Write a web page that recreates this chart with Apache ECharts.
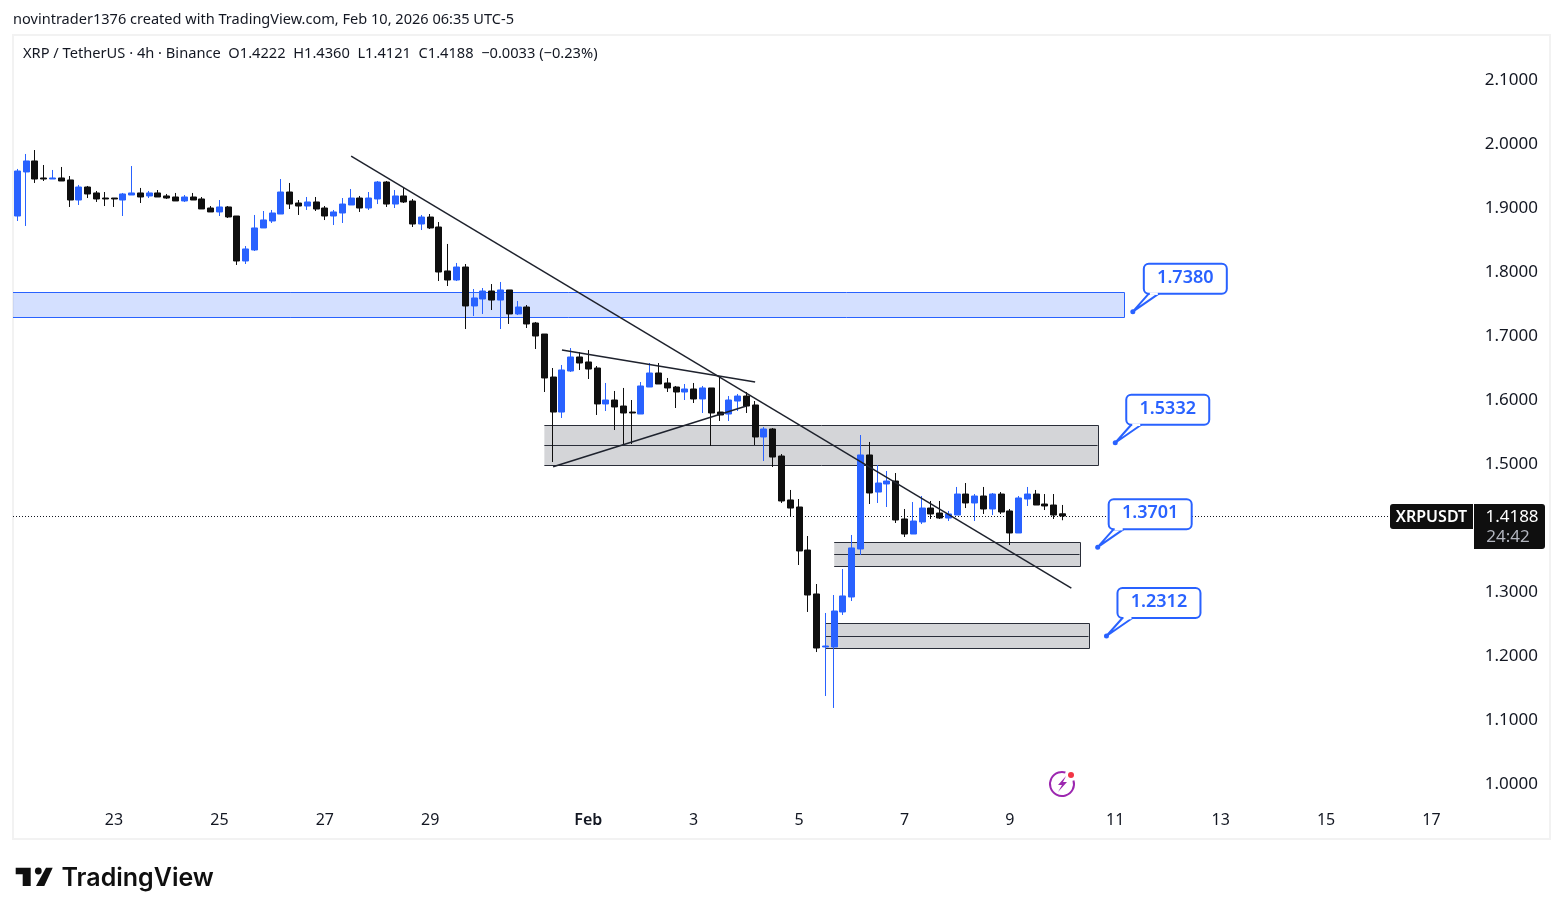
<!DOCTYPE html>
<html>
<head>
<meta charset="utf-8">
<title>XRP / TetherUS 4h</title>
<script src="https://cdn.jsdelivr.net/npm/echarts@6/dist/echarts.min.js"></script>
<style>
  html, body { margin: 0; padding: 0; background: #ffffff; }
  #chart { width: 1563px; height: 915px; }
</style>
</head>
<body>
<div id="chart"></div>
<script>
// 4h XRP/USDT candles, oldest first
const opens = [
  1.8875,1.9563,1.9735,1.9469,1.9453,1.9469,1.9438,1.9125,1.9328,1.9235,
  1.9156,1.9156,1.9125,1.9203,1.9235,1.9188,1.9235,1.9188,1.9172,1.9110,
  1.9172,1.9141,1.9000,1.8938,1.9016,1.8875,1.8172,1.8344,1.8688,1.8797,
  1.8906,1.9250,1.9078,1.9031,1.9094,1.9000,1.8875,1.8922,1.9047,1.9156,
  1.9000,1.9141,1.9406,1.9062,1.9188,1.9109,1.8750,1.8859,1.8703,1.8016,
  1.7875,1.8078,1.7469,1.7578,1.7703,1.7562,1.7719,1.7344,1.7453,1.7203,
  1.7031,1.6359,1.5812,1.6453,1.6672,1.6594,1.6500,1.5938,1.6000,1.5906,
  1.5812,1.5781,1.6203,1.6422,1.6266,1.6203,1.6125,1.6172,1.6016,1.6188,
  1.5812,1.5781,1.5984,1.6062,1.5922,1.5422,1.5547,1.5125,1.4438,1.4328,
  1.3656,1.2969,1.2141,1.2141,1.2688,1.2922,1.3672,1.5141,1.4562,1.4688,
  1.4734,1.4141,1.3906,1.4094,1.4312,1.4234,1.4156,1.4203,1.4531,1.4391,
  1.4500,1.4297,1.4531,1.4266,1.3922,1.4453,1.4531,1.4375,1.4359,1.4222
];
const closes = [
  1.9578,1.9735,1.9453,1.9453,1.9469,1.9422,1.9125,1.9328,1.9219,1.9141,
  1.9141,1.9141,1.9219,1.9235,1.9172,1.9235,1.9172,1.9156,1.9110,1.9172,
  1.9125,1.8985,1.8938,1.9016,1.8860,1.8172,1.8360,1.8688,1.8813,1.8922,
  1.9250,1.9062,1.9031,1.9094,1.8984,1.8875,1.8938,1.9062,1.9156,1.9000,
  1.9156,1.9406,1.9062,1.9188,1.9094,1.8750,1.8859,1.8688,1.8000,1.7875,
  1.8078,1.7469,1.7594,1.7703,1.7562,1.7719,1.7344,1.7453,1.7188,1.7000,
  1.6344,1.5812,1.6469,1.6672,1.6578,1.6484,1.5938,1.6000,1.5891,1.5797,
  1.5797,1.6219,1.6422,1.6250,1.6188,1.6125,1.6172,1.6016,1.6188,1.5797,
  1.5766,1.6000,1.6062,1.5906,1.5422,1.5547,1.5109,1.4422,1.4312,1.3641,
  1.2953,1.2125,1.2156,1.2703,1.2938,1.3688,1.5141,1.4547,1.4703,1.4734,
  1.4125,1.3906,1.4109,1.4312,1.4219,1.4156,1.4219,1.4531,1.4391,1.4500,
  1.4297,1.4531,1.4250,1.3922,1.4469,1.4531,1.4359,1.4344,1.4203,1.4188
];
const highs = [
  1.9610,1.9844,1.9906,1.9672,1.9594,1.9641,1.9500,1.9360,1.9344,1.9266,
  1.9250,1.9156,1.9235,1.9656,1.9313,1.9266,1.9281,1.9219,1.9235,1.9203,
  1.9235,1.9172,1.9031,1.9125,1.9031,1.8875,1.8406,1.8891,1.8953,1.8969,
  1.9453,1.9391,1.9125,1.9172,1.9172,1.9031,1.8969,1.9156,1.9297,1.9188,
  1.9250,1.9422,1.9422,1.9281,1.9312,1.9141,1.8891,1.8906,1.8781,1.8438,
  1.8141,1.8125,1.7734,1.7750,1.7812,1.7844,1.7719,1.7547,1.7484,1.7219,
  1.7031,1.6500,1.6547,1.6812,1.6750,1.6781,1.6531,1.6266,1.6141,1.6188,
  1.6000,1.6281,1.6578,1.6578,1.6344,1.6219,1.6250,1.6266,1.6219,1.6188,
  1.6375,1.6062,1.6094,1.6125,1.5984,1.5578,1.5562,1.5156,1.4594,1.4453,
  1.3875,1.3125,1.2672,1.2953,1.3359,1.3891,1.5453,1.5344,1.4984,1.4891,
  1.4859,1.4297,1.4406,1.4500,1.4422,1.4422,1.4266,1.4641,1.4703,1.4531,
  1.4641,1.4547,1.4562,1.4297,1.4500,1.4641,1.4594,1.4531,1.4531,1.4360
];
const lows = [
  1.8797,1.8719,1.9391,1.9422,1.9453,1.9422,1.9016,1.9047,1.9156,1.9094,
  1.9031,1.9016,1.8875,1.9203,1.9078,1.9156,1.9172,1.9141,1.9110,1.9094,
  1.9125,1.8985,1.8938,1.8875,1.8844,1.8110,1.8125,1.8328,1.8688,1.8766,
  1.8906,1.8984,1.8891,1.8969,1.8953,1.8812,1.8734,1.8766,1.9047,1.8938,
  1.8969,1.9062,1.9016,1.9000,1.9078,1.8703,1.8656,1.8672,1.7859,1.7781,
  1.7859,1.7109,1.7312,1.7344,1.7406,1.7109,1.7188,1.7328,1.7125,1.6797,
  1.6125,1.5031,1.5719,1.6438,1.6469,1.6328,1.5766,1.5828,1.5531,1.5297,
  1.5312,1.5781,1.6203,1.6250,1.6125,1.5875,1.6000,1.5953,1.5797,1.5281,
  1.5672,1.5672,1.5828,1.5797,1.5297,1.5047,1.4953,1.4391,1.4172,1.3422,
  1.2688,1.2062,1.1375,1.1188,1.2641,1.2859,1.3578,1.4375,1.4391,1.4328,
  1.4078,1.3859,1.3906,1.4062,1.4141,1.4141,1.4109,1.4203,1.4312,1.4109,
  1.4219,1.4203,1.4219,1.3734,1.3922,1.4344,1.4359,1.4281,1.4141,1.4121
];

// Session slots on the time axis, including the empty stretch right of the last candle
const slotCount = 175;
const dayLabels = ['23','25','27','29','Feb','3','5','7','9','11','13','15','17'];
const daySlots  = [11,23,35,47,65,77,89,101,113,125,137,149,161];
const priceTicks = [1.0,1.1,1.2,1.3,1.4,1.5,1.6,1.7,1.8,1.9,2.0,2.1];

// Support / resistance zones: [first slot, last slot, top, middle, bottom]
const blueZone  = [[-0.5, 126, 1.7683, 1.7683, 1.7292]];
const greyZones = [
  [60, 123, 1.5605, 1.5292, 1.4980],
  [93, 121, 1.3777, 1.3589, 1.3402],
  [92, 122, 1.2511, 1.2308, 1.2120]
];

// Hand-drawn trend lines: [slot, price] pairs
const mainTrend  = [[38, 1.9812], [120, 1.3062]];
const wedgeUpper = [[62, 1.6781], [84, 1.6281]];
const wedgeLower = [[61, 1.4958], [83, 1.5906]];

// Price callouts: [slot of the pointer, price]
const callouts = [[127, 1.7380], [125, 1.5332], [123, 1.3701], [124, 1.2312]];

const lastPrice = 1.4188;

const BLUE = '#2962ff';
const INK = '#131722';
const FONT = '"Noto Sans", sans-serif';

const categories = [];
for (let i = 0; i < slotCount; i++) {
  const at = daySlots.indexOf(i);
  categories.push(at >= 0 ? dayLabels[at] : '');
}
const candles = opens.map((o, i) => [o, closes[i], lows[i], highs[i]]);

const crisp = v => Math.round(v) + 0.5;

function renderZone(stroke, fill, midline) {
  return function (params, api) {
    const a = api.coord([api.value(0), api.value(2)]);
    const b = api.coord([api.value(1), api.value(4)]);
    const midY = crisp(api.coord([api.value(0), api.value(3)])[1]);
    const x0 = a[0], x1 = crisp(b[0]), y0 = crisp(a[1]), y1 = crisp(b[1]);
    const children = [
      { type: 'rect', shape: { x: x0, y: y0, width: x1 - x0, height: y1 - y0 },
        style: { fill: fill } },
      { type: 'polyline', shape: { points: [[x0, y0], [x1, y0], [x1, y1], [x0, y1]] },
        style: { stroke: stroke, lineWidth: 1, fill: null } }
    ];
    if (midline) {
      children.push({ type: 'line', shape: { x1: x0, y1: midY, x2: x1 - 1, y2: midY },
        style: { stroke: stroke, lineWidth: 1 } });
    }
    return { type: 'group', children: children };
  };
}

function renderCallout(params, api) {
  const p = api.coord([api.value(0), api.value(1)]);
  const bx = p[0] + 11, by = p[1] - 48, bw = 83, bh = 30;
  return {
    type: 'group',
    children: [
      { type: 'polygon', shape: { points: [[p[0], p[1]], [bx + 5, by + bh], [bx + 15, by + bh]] },
        style: { fill: '#ffffff', stroke: BLUE, lineWidth: 2, lineJoin: 'round' } },
      { type: 'rect', shape: { x: bx, y: by, width: bw, height: bh, r: 5 },
        style: { fill: '#ffffff', stroke: BLUE, lineWidth: 2 } },
      { type: 'line', shape: { x1: bx + 6, y1: by + bh, x2: bx + 14, y2: by + bh },
        style: { stroke: '#ffffff', lineWidth: 2.5 } },
      { type: 'circle', shape: { cx: p[0], cy: p[1], r: 2.5 }, style: { fill: BLUE } },
      { type: 'text', style: { text: api.value(1).toFixed(4), x: bx + bw / 2, y: by + bh / 2 - 1,
        textAlign: 'center', textVerticalAlign: 'middle', fill: BLUE,
        font: '600 18px ' + FONT } }
    ]
  };
}

function renderPriceTag(params, api) {
  const y = Math.round(api.coord([0, api.value(0)])[1]);
  const left = api.coord([-0.5, api.value(0)])[0];
  const lineY = y + 0.5;
  return {
    type: 'group',
    children: [
      { type: 'line', shape: { x1: left, y1: lineY, x2: 1390, y2: lineY },
        style: { stroke: INK, lineWidth: 1, lineDash: [1, 2] } },
      { type: 'rect', shape: { x: 1390, y: y - 12, width: 83, height: 25, r: [3, 0, 0, 3] },
        style: { fill: '#0f0f0f' } },
      { type: 'text', style: { text: 'XRPUSDT', x: 1431.5, y: y + 1, textAlign: 'center',
        textVerticalAlign: 'middle', fill: '#ffffff', font: '600 16px ' + FONT } },
      { type: 'rect', shape: { x: 1474, y: y - 12, width: 71, height: 45, r: [0, 3, 3, 0] },
        style: { fill: '#0f0f0f' } },
      { type: 'text', style: { text: api.value(0).toFixed(4), x: 1512, y: y + 1, textAlign: 'center',
        textVerticalAlign: 'middle', fill: '#ffffff', font: '17px ' + FONT } },
      { type: 'text', style: { text: '24:42', x: 1508, y: y + 21, textAlign: 'center',
        textVerticalAlign: 'middle', fill: '#b2b5be', font: '17px ' + FONT } }
    ]
  };
}

function trendSeries(points) {
  return {
    type: 'line', xAxisIndex: 1, data: points, symbol: 'none', z: 5, silent: true,
    lineStyle: { color: '#1e222d', width: 1.5 }
  };
}

const chart = echarts.init(document.getElementById('chart'), null, { renderer: 'canvas' });

chart.setOption({
  animation: false,
  backgroundColor: '#ffffff',
  tooltip: { show: false },
  grid: { left: 13, top: 35, width: 1537, height: 765, containLabel: false },
  xAxis: [
    {
      type: 'category', data: categories, boundaryGap: true,
      axisLine: { show: false }, axisTick: { show: false }, splitLine: { show: false },
      axisLabel: {
        interval: (i, name) => name !== '',
        margin: 12, color: INK, fontFamily: FONT, fontSize: 16,
        formatter: v => v === 'Feb' ? '{m|Feb}' : v,
        rich: { m: { fontFamily: FONT, fontSize: 16, fontWeight: 600, color: INK } }
      }
    },
    { type: 'value', min: -0.5, max: slotCount - 0.5, show: false, splitLine: { show: false } }
  ],
  yAxis: {
    type: 'value', position: 'right', min: 0.975, max: 2.1703125, scale: true,
    axisLine: { show: false }, axisTick: { show: false }, splitLine: { show: false },
    axisLabel: {
      inside: true, margin: 12, color: INK, fontFamily: FONT, fontSize: 17,
      padding: [4, 0, 0, 0],
      customValues: priceTicks, formatter: v => v.toFixed(4)
    }
  },
  series: [
    { type: 'custom', xAxisIndex: 1, data: blueZone, z: 1, silent: true, clip: true,
      encode: { x: [0, 1], y: [2, 3, 4] },
      renderItem: renderZone(BLUE, 'rgba(41,98,255,0.2)', false) },
    { type: 'custom', xAxisIndex: 1, data: greyZones, z: 1, silent: true,
      encode: { x: [0, 1], y: [2, 3, 4] },
      renderItem: renderZone('#2a2e39', 'rgba(120,123,134,0.32)', true) },
    { type: 'candlestick', xAxisIndex: 0, data: candles, barWidth: 6.5, z: 3, silent: true,
      itemStyle: { color: BLUE, color0: '#0f0f0f', borderColor: BLUE, borderColor0: '#0f0f0f', borderWidth: 1 } },
    trendSeries(mainTrend),
    trendSeries(wedgeUpper),
    trendSeries(wedgeLower),
    { type: 'custom', xAxisIndex: 1, data: callouts, z: 6, silent: true,
      encode: { x: 0, y: 1 }, renderItem: renderCallout },
    { type: 'custom', xAxisIndex: 1, data: [[lastPrice]], z: 2, silent: true,
      encode: { y: 0 }, renderItem: renderPriceTag }
  ],
  graphic: [
    { type: 'rect', z: 0, silent: true, shape: { x: 13, y: 35, width: 1537, height: 804 },
      style: { fill: 'transparent', stroke: '#f2f2f2', lineWidth: 2 } },
    { type: 'text', x: 13, y: 20, silent: true, style: {
        text: 'novintrader1376 created with TradingView.com, Feb 10, 2026 06:35 UTC-5',
        fill: INK, font: '14.55px ' + FONT, textVerticalAlign: 'middle' } },
    { type: 'text', x: 23, y: 54, silent: true, style: {
        text: 'XRP / TetherUS \u00b7 4h \u00b7 Binance  O1.4222  H1.4360  L1.4121  C1.4188  \u22120.0033 (\u22120.23%)',
        fill: INK, font: '14.65px ' + FONT, textVerticalAlign: 'middle' } },
    // TradingView wordmark
    { type: 'polygon', silent: true, shape: { points: [[15.7, 867.7], [30.7, 867.7], [30.7, 886], [22.7, 886], [22.7, 874.3], [15.7, 874.3]] },
      style: { fill: '#0f0f0f' } },
    { type: 'circle', silent: true, shape: { cx: 38.3, cy: 871, r: 3.4 }, style: { fill: '#0f0f0f' } },
    { type: 'polygon', silent: true, shape: { points: [[46, 867.7], [52.7, 867.7], [44.3, 886], [36, 886]] },
      style: { fill: '#0f0f0f' } },
    { type: 'text', x: 61.5, y: 878.5, silent: true, style: {
        text: 'TradingView', fill: '#0f0f0f', font: '600 25px Inter, ' + FONT, textVerticalAlign: 'middle' } },
    // Lightning badge near the last candle
    { type: 'arc', silent: true, shape: { cx: 1062, cy: 784, r: 12, startAngle: -0.3, endAngle: 5.0 },
      style: { stroke: '#9c27b0', lineWidth: 2, fill: null } },
    { type: 'polygon', silent: true, shape: { points: [[1066, 776], [1058, 785], [1062, 785], [1058, 792], [1067, 782], [1063, 782]] },
      style: { fill: '#9c27b0' } },
    { type: 'circle', silent: true, shape: { cx: 1071, cy: 775, r: 3 }, style: { fill: '#f23645' } }
  ]
});
</script>
</body>
</html>
